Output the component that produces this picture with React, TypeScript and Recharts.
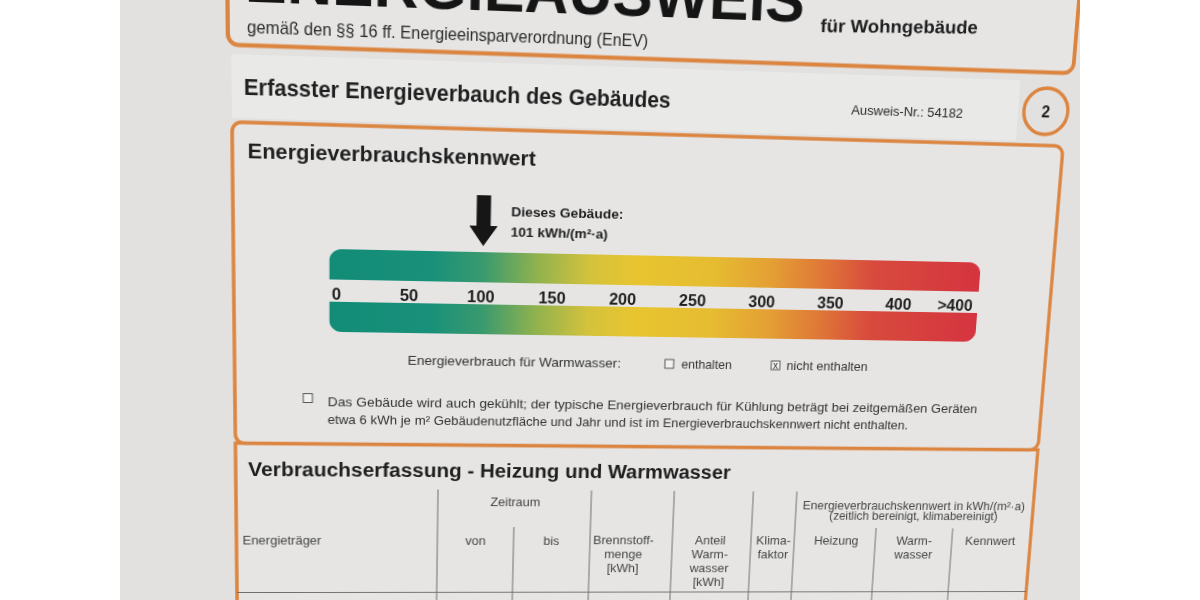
import { Bar, BarChart, Rectangle, ReferenceLine, XAxis, YAxis } from 'recharts';

// Skala Energieverbrauchskennwert in kWh/(m²·a)
const skalaZeilen = ['oben', 'unten'];
const skalaBereich: [number, number] = [-5, 459];
const tickWerte = [0, 50, 100, 150, 200, 250, 300, 350, 400, 442];
const tickTexte = ['0', '50', '100', '150', '200', '250', '300', '350', '400', '>400'];
const gebaeudeWert = 101;

// Farbverlauf gruen -> gelb -> rot
const verlaufOffsets = [0, 0.15, 0.23, 0.31, 0.39, 0.46, 0.58, 0.67, 0.75, 0.83, 1];
const verlaufFarben = ['#138c77', '#18907a', '#3a9a6e', '#90b24e', '#d4c23c', '#e8c530', '#e6bc31', '#e49f34', '#df7737', '#d84a3d', '#d5343f'];

const skalaDaten = skalaZeilen.map((zeile) => ({ zeile, bereich: skalaBereich }));

const ORANGE = '#dc8540';
const TEXT = '#1f1f1f';
const GRAU = '#454545';

// Foto ist schraeg aufgenommen: flache Seite -> Bildkoordinaten
const flachEcken = [[232, 122], [1062, 122], [1062, 593], [232, 593]];
const fotoEcken = [[232, 122], [1063, 146], [1026, 592], [237, 593]];

function perspektive(src: number[][], dst: number[][]) {
  const A: number[][] = [];
  const b: number[] = [];
  for (let i = 0; i < 4; i++) {
    const [u, v] = src[i];
    const [x, y] = dst[i];
    A.push([u, v, 1, 0, 0, 0, -u * x, -v * x]);
    b.push(x);
    A.push([0, 0, 0, u, v, 1, -u * y, -v * y]);
    b.push(y);
  }
  for (let c = 0; c < 8; c++) {
    let p = c;
    for (let r = c + 1; r < 8; r++) if (Math.abs(A[r][c]) > Math.abs(A[p][c])) p = r;
    [A[c], A[p]] = [A[p], A[c]];
    [b[c], b[p]] = [b[p], b[c]];
    for (let r = 0; r < 8; r++) {
      if (r === c) continue;
      const f = A[r][c] / A[c][c];
      for (let k = c; k < 8; k++) A[r][k] -= f * A[c][k];
      b[r] -= f * b[c];
    }
  }
  const h = b.map((w, i) => w / A[i][i]);
  return `matrix3d(${h[0]},${h[3]},0,${h[6]},${h[1]},${h[4]},0,${h[7]},0,0,1,0,${h[2]},${h[5]},0,1)`;
}

function SkalaTick(props: any) {
  const { x, y, payload } = props;
  const i = tickWerte.indexOf(payload.value);
  return (
    <text x={x} y={y + 55} textAnchor="middle" dominantBaseline="central" fontSize={16.5} fontWeight={700} fill={TEXT}>
      {tickTexte[i]}
    </text>
  );
}

function GebaeudePfeil(props: any) {
  const x = props.x1;
  const yt = Math.min(props.y1, props.y2);
  const pts = [
    [x - 7, yt - 45], [x + 7, yt - 45], [x + 7, yt - 15], [x + 14, yt - 15],
    [x, yt + 5], [x - 14, yt - 15], [x - 7, yt - 15],
  ].map((p) => p.join(',')).join(' ');
  return (
    <g>
      <polygon points={pts} fill="#161616" />
      <text x={x + 27} y={yt - 25} fontSize={13.5} fontWeight={700} fill={TEXT} textLength={112} lengthAdjust="spacingAndGlyphs">
        Dieses Gebäude:
      </text>
      <text x={x + 27} y={yt - 5} fontSize={13.5} fontWeight={700} fill={TEXT} textLength={97} lengthAdjust="spacingAndGlyphs">
        {gebaeudeWert} kWh/(m²·a)
      </text>
    </g>
  );
}

function Kaestchen({ x, y, kreuz }: { x: number; y: number; kreuz?: boolean }) {
  return (
    <g>
      <rect x={x} y={y} width={9} height={9} fill="#f1f1f0" stroke="#555" strokeWidth={1} />
      {kreuz && (
        <text x={x + 4.5} y={y + 8} fontSize={10} textAnchor="middle" fill="#333">x</text>
      )}
    </g>
  );
}

function Dokument() {
  const tab = { fontSize: 13, fill: GRAU, textAnchor: 'middle' as const };
  return (
    <svg width={1200} height={600} style={{ position: 'absolute', left: 0, top: 0, overflow: 'visible' }}
      fontFamily="'Liberation Sans', Arial, sans-serif">
      {/* Kopfkasten */}
      <rect x={229} y={-70} width={837} height={119.5} rx={10} fill="#e6e5e4" stroke={ORANGE} strokeWidth={4} />
      <text x={245} y={9} fontSize={60} fontWeight={700} fill="#151515" textLength={542} lengthAdjust="spacingAndGlyphs">
        ENERGIEAUSWEIS
      </text>
      <text x={804} y={18} fontSize={17.5} fontWeight={700} fill={TEXT} textLength={160} lengthAdjust="spacingAndGlyphs"
        transform="rotate(-1.4 804 18)">
        für Wohngebäude
      </text>
      <text x={247} y={38.5} fontSize={16} fill="#2b2b2b" textLength={386} lengthAdjust="spacingAndGlyphs">
        gemäß den §§ 16 ff. Energieeinsparverordnung (EnEV)
      </text>

      {/* Zwischenleiste */}
      <rect x={232} y={58} width={780} height={60} fill="#e9e9e8" />
      <text x={243.4} y={96} fontSize={21.5} fontWeight={700} fill={TEXT} textLength={414} lengthAdjust="spacingAndGlyphs">
        Erfasster Energieverbauch des Gebäudes
      </text>
      <text x={840} y={97} fontSize={12.5} fill="#2b2b2b" textLength={115} lengthAdjust="spacingAndGlyphs">
        Ausweis-Nr.: 54182
      </text>
      <circle cx={1041} cy={88} r={23} fill="none" stroke={ORANGE} strokeWidth={3.5} />
      <text x={1041} y={94} fontSize={16} fontWeight={700} textAnchor="middle" fill={TEXT}>2</text>

      {/* Kasten Verbrauchserfassung */}
      <rect x={232} y={437.5} width={830} height={300} fill="#e6e5e4" stroke={ORANGE} strokeWidth={3.5} />
      {/* Kasten Kennwert */}
      <rect x={232} y={122} width={830} height={315.5} rx={9} fill="#e6e5e4" stroke={ORANGE} strokeWidth={3.5} />

      <text x={246.6} y={156} fontSize={20.5} fontWeight={700} fill={TEXT} textLength={279} lengthAdjust="spacingAndGlyphs">
        Energieverbrauchskennwert
      </text>

      <text x={402} y={356.5} fontSize={12.5} fill="#333" textLength={215} lengthAdjust="spacingAndGlyphs">
        Energieverbrauch für Warmwasser:
      </text>
      <Kaestchen x={662} y={347} />
      <text x={679} y={356} fontSize={12.5} fill="#333" textLength={52} lengthAdjust="spacingAndGlyphs">enthalten</text>
      <Kaestchen x={772} y={347} kreuz />
      <text x={788} y={356} fontSize={12.5} fill="#333" textLength={85} lengthAdjust="spacingAndGlyphs">nicht enthalten</text>

      <Kaestchen x={299} y={386.5} />
      <text x={323} y={399} fontSize={12} fill="#333" textLength={670} lengthAdjust="spacingAndGlyphs">
        Das Gebäude wird auch gekühlt; der typische Energieverbrauch für Kühlung beträgt bei zeitgemäßen Geräten
      </text>
      <text x={323} y={417} fontSize={12} fill="#333" textLength={597} lengthAdjust="spacingAndGlyphs">
        etwa 6 kWh je m² Gebäudenutzfläche und Jahr und ist im Energieverbrauchskennwert nicht enthalten.
      </text>

      <text x={244.2} y={471} fontSize={20.5} fontWeight={700} fill={TEXT} textLength={491} lengthAdjust="spacingAndGlyphs">
        Verbrauchserfassung - Heizung und Warmwasser
      </text>

      {/* Tabellenkopf */}
      <g stroke="#6d6d6d" strokeWidth={1}>
        {[434, 591, 677, 760, 806].map((x) => (
          <line key={x} x1={x} y1={484} x2={x} y2={660} />
        ))}
        {[512, 893, 976].map((x) => (
          <line key={x} x1={x} y1={523} x2={x} y2={660} />
        ))}
        <line x1={232} y1={592.5} x2={1062} y2={592.5} />
      </g>
      <text {...tab} x={513} y={501}>Zeitraum</text>
      <text {...tab} x={933} y={503} fontSize={12} textLength={240} lengthAdjust="spacingAndGlyphs">
        Energieverbrauchskennwert in kWh/(m²·a)
      </text>
      <text {...tab} x={933} y={514.5} fontSize={12} textLength={182} lengthAdjust="spacingAndGlyphs">
        (zeitlich bereinigt, klimabereinigt)
      </text>
      <text {...tab} x={238} y={542} textAnchor="start">Energieträger</text>
      <text {...tab} x={473} y={542}>von</text>
      <text {...tab} x={551} y={542}>bis</text>
      <text {...tab} x={626} y={541}>Brennstoff-</text>
      <text {...tab} x={626} y={556}>menge</text>
      <text {...tab} x={626} y={571}>[kWh]</text>
      <text {...tab} x={717} y={541}>Anteil</text>
      <text {...tab} x={717} y={556}>Warm-</text>
      <text {...tab} x={717} y={571}>wasser</text>
      <text {...tab} x={717} y={586}>[kWh]</text>
      <text {...tab} x={784} y={541}>Klima-</text>
      <text {...tab} x={784} y={556}>faktor</text>
      <text {...tab} x={851} y={541}>Heizung</text>
      <text {...tab} x={935} y={541}>Warm-</text>
      <text {...tab} x={935} y={556}>wasser</text>
      <text {...tab} x={1018} y={541}>Kennwert</text>
    </svg>
  );
}

function Skala() {
  return (
    <div style={{ position: 'absolute', left: 0, top: 180 }}>
      <BarChart
        width={1200}
        height={155}
        layout="vertical"
        data={skalaDaten}
        margin={{ top: 31, right: 214.8, bottom: 0, left: 324.5 }}
        style={{ fontFamily: "'Liberation Sans', Arial, sans-serif" }}
      >
        <defs>
          <linearGradient id="skala" x1="0" y1="0" x2="1" y2="0">
            {verlaufOffsets.map((o, i) => (
              <stop key={o} offset={o} stopColor={verlaufFarben[i]} />
            ))}
          </linearGradient>
        </defs>
        <XAxis
          type="number"
          orientation="top"
          domain={skalaBereich}
          ticks={tickWerte}
          interval={0}
          allowDataOverflow
          height={20}
          axisLine={false}
          tickLine={false}
          tickSize={0}
          tickMargin={0}
          tick={(p: any) => <SkalaTick {...p} />}
        />
        <YAxis type="category" dataKey="zeile" hide />
        <Bar
          dataKey="bereich"
          barSize={30}
          fill="url(#skala)"
          isAnimationActive={false}
          shape={(p: any) => {
            const zeile = p.payload?.zeile ?? p.zeile;
            return <Rectangle {...p} radius={zeile === 'oben' ? [12, 12, 0, 0] : [0, 0, 12, 12]} />;
          }}
        />
        <ReferenceLine x={gebaeudeWert} ifOverflow="visible" shape={(p: any) => <GebaeudePfeil {...p} />} />
      </BarChart>
    </div>
  );
}

export default function App() {
  return (
    <div style={{ position: 'absolute', left: 0, top: 0, width: 1200, height: 600, background: '#fff', overflow: 'hidden' }}>
      <div style={{ position: 'absolute', left: 120, top: 0, width: 960, height: 600, background: '#e2e1e0', overflow: 'hidden' }}>
        <div
          style={{
            position: 'absolute',
            left: -120,
            top: 0,
            width: 1200,
            height: 600,
            transformOrigin: '0 0',
            transform: perspektive(flachEcken, fotoEcken),
          }}
        >
          <Dokument />
          <Skala />
        </div>
      </div>
    </div>
  );
}
